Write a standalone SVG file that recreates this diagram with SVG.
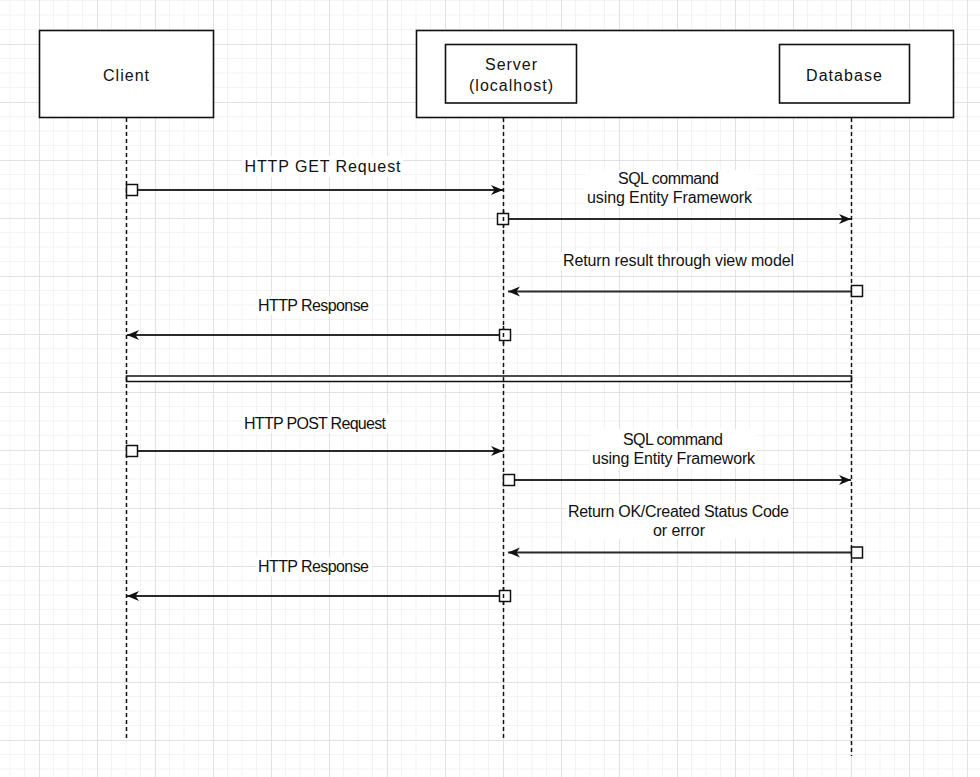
<svg xmlns="http://www.w3.org/2000/svg" width="980" height="777" viewBox="0 0 980 777">
<defs>
<pattern id="grid" patternUnits="userSpaceOnUse" x="39" y="44" width="58" height="58">
<rect width="58" height="58" fill="#ffffff"/>
<path d="M14.5 0V58M29 0V58M43.5 0V58M0 14.5H58M0 29H58M0 43.5H58" stroke="#f3f3f3" stroke-width="1" fill="none"/>
<path d="M0.5 0V58M0 0.5H58" stroke="#e2e2e2" stroke-width="1" fill="none"/>
</pattern>
<marker id="arr" markerUnits="userSpaceOnUse" markerWidth="14" markerHeight="12" refX="12" refY="6" orient="auto">
<path d="M0,1 L12,6 L0,11 L3.5,6 Z" fill="#111"/>
</marker>
<style>
.box{fill:#fff;stroke:#111;stroke-width:1.6}
.t{font-family:"Liberation Sans",Arial,sans-serif;font-size:16px;fill:#111;text-anchor:middle}
.life{stroke:#111;stroke-width:1.5;stroke-dasharray:4 3;fill:none}
.msg{stroke:#2a2a2a;stroke-width:1.8;fill:none}
.act{fill:#fff;stroke:#111;stroke-width:1.5}
.lbg{fill:#fff}
</style>
</defs>
<rect width="980" height="777" fill="url(#grid)"/>

<g id="client">
<rect class="box" x="39.5" y="30.5" width="174" height="87"/>
<text class="t" x="126" y="81" textLength="46">Client</text>
</g>
<g id="container">
<rect class="box" x="416.5" y="30.5" width="537" height="87"/>
</g>
<g id="server">
<rect class="box" x="445.5" y="44.5" width="131" height="58.5"/>
<text class="t" x="511" y="69.5" textLength="52">Server</text>
<text class="t" x="511" y="91" textLength="84">(localhost)</text>
</g>
<g id="database">
<rect class="box" x="779.5" y="44.5" width="130" height="58.5"/>
<text class="t" x="844" y="81" textLength="76">Database</text>
</g>

<g id="separator">
<rect x="126.5" y="376" width="725" height="5.5" fill="#fff" stroke="#111" stroke-width="1.5"/>
</g>

<g id="lifelines">
<line class="life" x1="126.5" y1="118" x2="126.5" y2="741"/>
<line class="life" x1="503.5" y1="118" x2="503.5" y2="741"/>
<line class="life" x1="851.5" y1="118" x2="851.5" y2="756"/>
</g>

<g id="connectors">
<line class="msg" x1="137" y1="190" x2="503" y2="190" marker-end="url(#arr)"/>
<line class="msg" x1="508" y1="219" x2="851" y2="219" marker-end="url(#arr)"/>
<line class="msg" x1="851" y1="291.5" x2="508" y2="291.5" marker-end="url(#arr)"/>
<line class="msg" x1="499" y1="335" x2="127" y2="335" marker-end="url(#arr)"/>
<line class="msg" x1="138" y1="451" x2="503" y2="451" marker-end="url(#arr)"/>
<line class="msg" x1="515" y1="480" x2="851" y2="480" marker-end="url(#arr)"/>
<line class="msg" x1="851" y1="552.5" x2="508" y2="552.5" marker-end="url(#arr)"/>
<line class="msg" x1="499" y1="596" x2="127" y2="596" marker-end="url(#arr)"/>
<rect class="act" x="126.5" y="184.5" width="11" height="11"/>
<rect class="act" x="497.5" y="213.5" width="11" height="11"/>
<rect class="act" x="851.5" y="285.5" width="11" height="11"/>
<rect class="act" x="499.5" y="329.5" width="11" height="11"/>
<rect class="act" x="126.5" y="445.5" width="11" height="11"/>
<rect class="act" x="503.5" y="474.5" width="11" height="11"/>
<rect class="act" x="851.5" y="547" width="11" height="11"/>
<rect class="act" x="499.5" y="590.5" width="11" height="11"/>
<line stroke="#111" stroke-width="1.5" stroke-dasharray="4 3" x1="503.5" y1="210" x2="503.5" y2="230"/>
<line stroke="#111" stroke-width="1.5" stroke-dasharray="4 3" x1="503.5" y1="326" x2="503.5" y2="344"/>
<line stroke="#111" stroke-width="1.5" stroke-dasharray="4 3" x1="503.5" y1="587" x2="503.5" y2="605"/>
</g>

<g id="labels">
<rect class="lbg" x="242" y="156" width="161" height="21"/>
<text class="t" x="322.5" y="172" textLength="156">HTTP GET Request</text>
<rect class="lbg" x="585" y="170" width="170" height="37"/>
<text class="t" x="668.5" y="184" textLength="101">SQL command</text>
<text class="t" x="669.5" y="203" textLength="165">using Entity Framework</text>
<rect class="lbg" x="561" y="252" width="236" height="18"/>
<text class="t" x="678.5" y="266" textLength="231">Return result through view model</text>
<rect class="lbg" x="256" y="296" width="116" height="19"/>
<text class="t" x="313.5" y="311" textLength="111">HTTP Response</text>
<rect class="lbg" x="242" y="414" width="147" height="19"/>
<text class="t" x="315" y="429" textLength="142">HTTP POST Request</text>
<rect class="lbg" x="590" y="429" width="167" height="38"/>
<text class="t" x="673" y="445" textLength="100">SQL command</text>
<text class="t" x="673.5" y="464" textLength="163">using Entity Framework</text>
<rect class="lbg" x="566" y="503" width="225" height="36"/>
<text class="t" x="678.5" y="517" textLength="221">Return OK/Created Status Code</text>
<text class="t" x="679" y="536" textLength="52">or error</text>
<rect class="lbg" x="256" y="557" width="116" height="19"/>
<text class="t" x="313.5" y="572" textLength="111">HTTP Response</text>
</g>
</svg>
